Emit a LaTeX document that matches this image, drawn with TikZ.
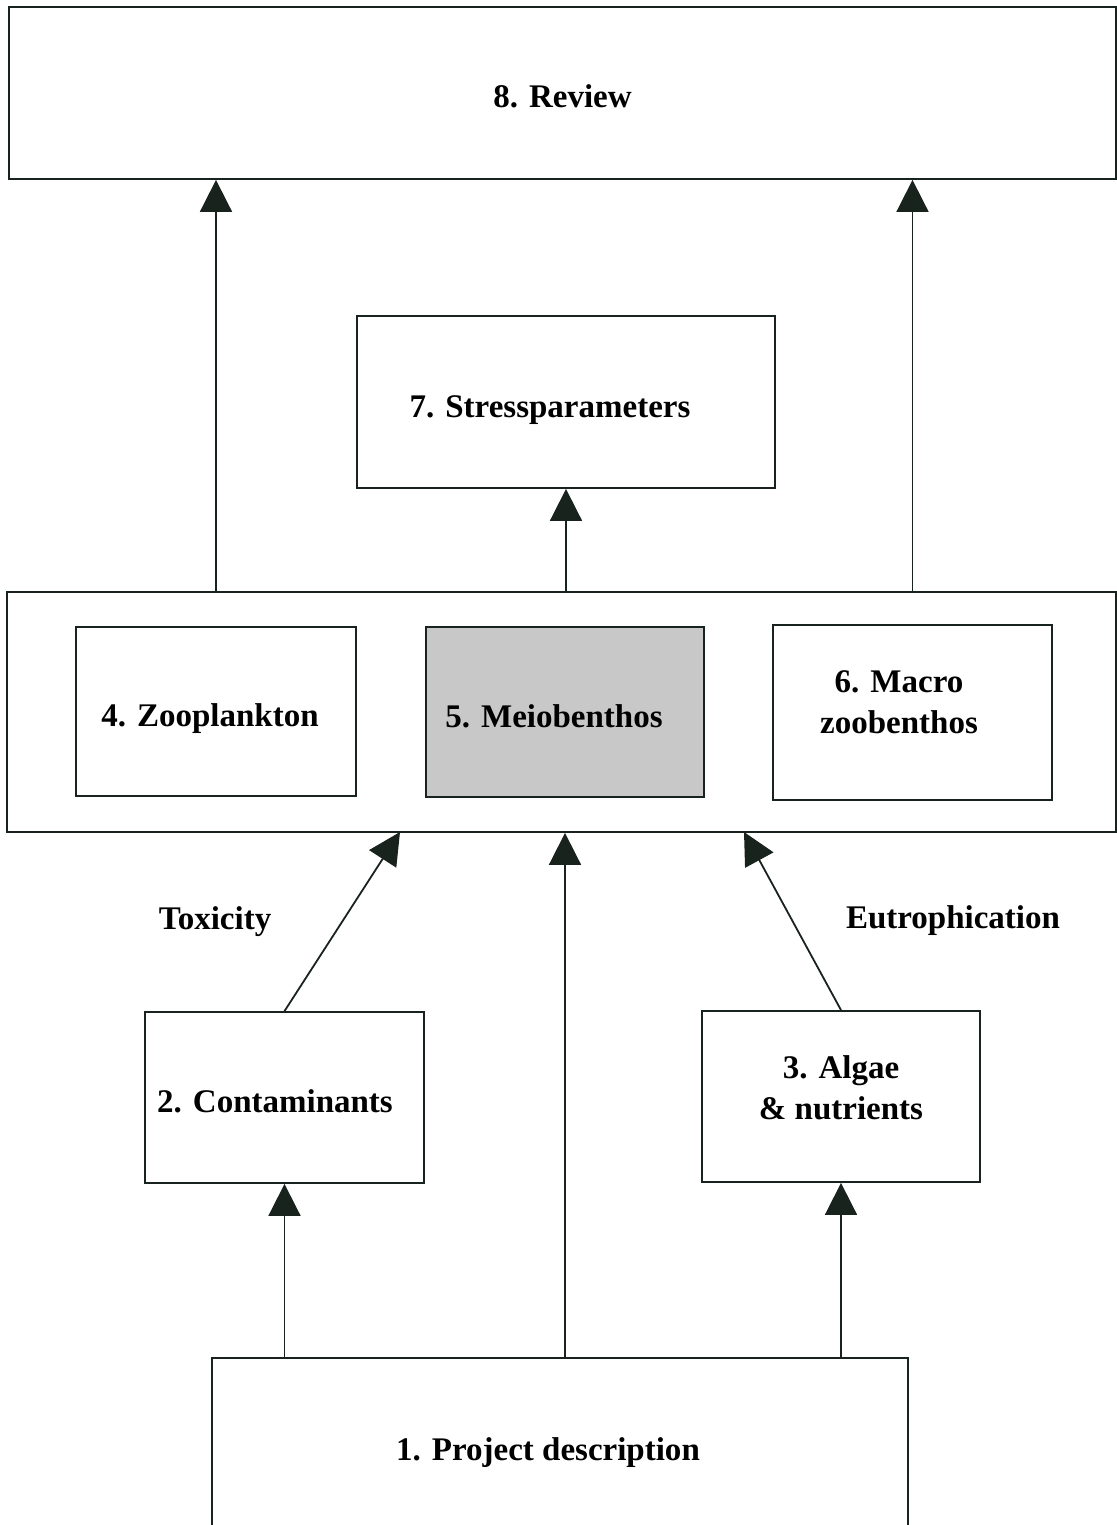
\documentclass[tikz,border=0pt]{standalone}
\usepackage{fontspec}
\setmainfont{Liberation Serif}
\usepackage{xcolor}
\definecolor{BoxBorder}{RGB}{25,35,30}
\definecolor{ShadeFill}{RGB}{200,200,200}
\usepackage{tikz}
\usetikzlibrary{
  positioning,
  arrows.meta,
  calc
}
\tikzset{
  % Standard box
  box/.style={
    rectangle,
    draw=BoxBorder,
    line width=0.9pt,
    inner sep=0pt,
    align=center,
    text height=15pt,
    text depth=0pt,
    font=\fontsize{16.5}{20.5}\selectfont\bfseries
  },
  % Box with two lines of text
  mbox/.style={
    box,
    text height=,
    text depth=
  },
  % Shaded box
  sbox/.style={
    box,
    fill=ShadeFill
  },
  % Arrow
  flow/.style={
    draw=BoxBorder,
    line width=0.9pt,
    -{Triangle[width=16pt,length=16pt]}
  },
  % Free label
  tlabel/.style={
    font=\fontsize{16.5}{20.5}\selectfont\bfseries
  }
}

\begin{document}
\begin{tikzpicture}[x=0.5pt,y=-0.5pt]
  \useasboundingbox (0,0) rectangle (1117,1525);
  \clip (0,0) rectangle (1117,1525);

  \node[box, minimum width=553.5pt, minimum height=86pt] (review) at (562.5, 93) {8. Review};
  \node[box, minimum width=209pt, minimum height=86pt] (stress) at (566, 402) {7. Stressparameters\kern16pt};

  % middle group
  \node[box, minimum width=554.5pt, minimum height=120pt] (group) at (561.5, 712) {};
  \node[box, minimum width=140pt, minimum height=84.5pt] (zoo) at (216, 711.5) {4. Zooplankton\kern6pt};
  \node[sbox, minimum width=139pt, minimum height=85pt] (meio) at (565, 712) {5. Meiobenthos\kern11pt};
  \node[mbox, minimum width=139.5pt, minimum height=87.5pt] (macro) at (912.5, 712.5)
    {6. Macro\kern13.5pt\\zoobenthos\kern13.5pt\rule[-10pt]{0pt}{10pt}};

  \node[box, minimum width=139.5pt, minimum height=85.5pt] (conta) at (284.5, 1097.5) {2. Contaminants\kern9.5pt};
  \node[mbox, minimum width=139pt, minimum height=85.5pt] (algae) at (841, 1096.5)
    {3. Algae\\\& nutrients\rule[-8.5pt]{0pt}{8.5pt}};
  \node[box, minimum width=348pt, minimum height=87pt] (project) at (560, 1445) {1. Project description\kern12pt};

  \node[tlabel] (toxic) at (215, 922) {Toxicity};
  \node[tlabel] (eutro) at (953, 921) {Eutrophication};

  \coordinate (toxin) at (400, 832);
  \coordinate (eutin) at (744, 832);

  \draw[flow] (project.north -| conta.south) -- (conta.south);
  \draw[flow] (project.north -| meio.south) -- (group.south -| meio.south);
  \draw[flow] (project.north -| algae.south) -- (algae.south);

  \draw[flow] (conta.north) -- (toxin);
  \draw[flow] (algae.north) -- (eutin);

  \draw[flow] (group.north -| zoo.north) -- (review.south -| zoo.north);
  \draw[flow] (group.north -| stress.south) -- (stress.south);
  \draw[flow] (group.north -| macro.north) -- (review.south -| macro.north);
\end{tikzpicture}
\end{document}
